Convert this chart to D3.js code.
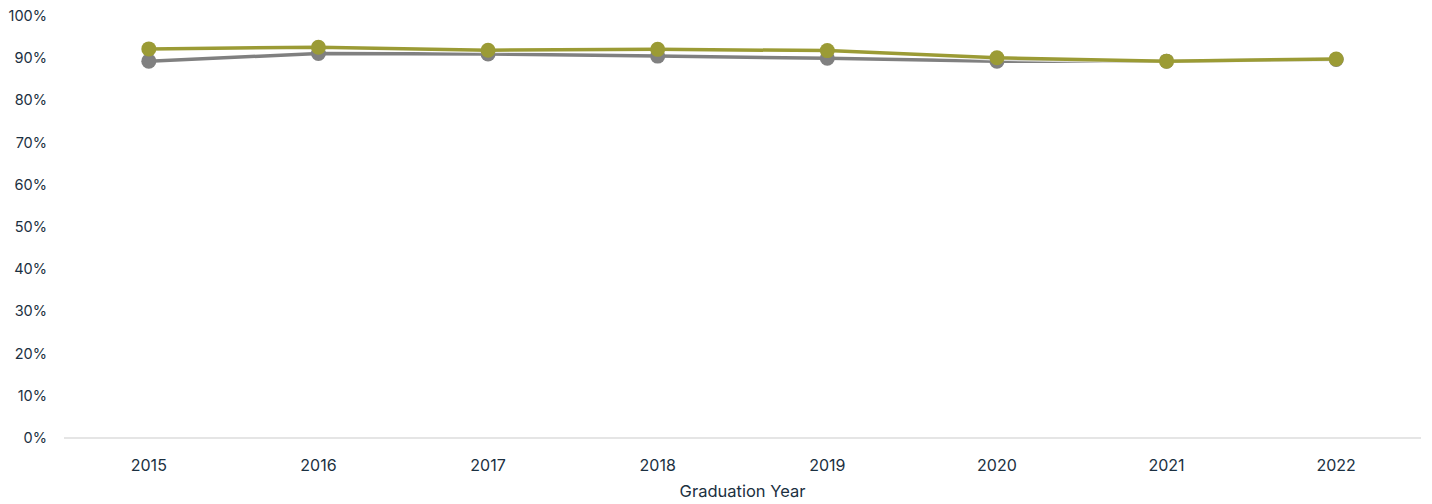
<!DOCTYPE html>
<html>
<head>
<meta charset="utf-8">
<script src="https://cdn.jsdelivr.net/npm/d3@7"></script>
<style>
  body { margin: 0; background: #fff; }
  text { font-family: Inter, "Open Sans", sans-serif; fill: #1b3041; }
</style>
</head>
<body>
<div id="vis"></div>
<script>
var years = ["2015", "2016", "2017", "2018", "2019", "2020", "2021", "2022"];
var grayValues = [89.3, 91.1, 91.0, 90.5, 90.0, 89.3, 89.3, 89.7];
var oliveValues = [92.2, 92.6, 91.9, 92.1, 91.8, 90.1, 89.3, 89.8];
var yTicks = [0, 10, 20, 30, 40, 50, 60, 70, 80, 90, 100];

var width = 1432, height = 504;
var margin = {top: 16, right: 11, bottom: 66, left: 64};

var svg = d3.select("#vis")
    .append("svg")
    .attr("width", width)
    .attr("height", height);

var x = d3.scaleBand()
    .domain(years)
    .range([margin.left, width - margin.right]);

var y = d3.scaleLinear()
    .domain([0, 100])
    .range([height - margin.bottom, margin.top]);

// y labels
svg.append("g")
  .selectAll("text")
    .data(yTicks)
    .enter()
    .append("text")
    .attr("x", 47)
    .attr("y", function(d) { return y(d); })
    .attr("dy", "0.35em")
    .attr("text-anchor", "end")
    .style("font-size", "14.5px")
    .text(function(d) { return d + "%"; });

// baseline
svg.append("line")
    .attr("x1", margin.left)
    .attr("x2", width - margin.right)
    .attr("y1", y(0))
    .attr("y2", y(0))
    .style("stroke", "#dcdcdc")
    .style("stroke-width", 1.5);

// x labels
svg.append("g")
  .selectAll("text")
    .data(years)
    .enter()
    .append("text")
    .attr("x", function(d) { return x(d) + x.bandwidth() / 2; })
    .attr("y", 465)
    .attr("dy", "0.35em")
    .attr("text-anchor", "middle")
    .style("font-size", "16px")
    .text(function(d) { return d; });

svg.append("text")
    .attr("x", x.range()[0] + (x.range()[1] - x.range()[0]) / 2)
    .attr("y", 491)
    .attr("dy", "0.35em")
    .attr("text-anchor", "middle")
    .style("font-size", "16.5px")
    .text("Graduation Year");

var line = d3.line()
    .x(function(d, i) { return x(years[i]) + x.bandwidth() / 2; })
    .y(function(d) { return y(d); });

function drawSeries(values, color) {
  svg.append("path")
      .datum(values)
      .attr("d", line)
      .style("fill", "none")
      .style("stroke", "#fff")
      .style("stroke-opacity", 0.7)
      .style("stroke-width", 6);
  svg.append("path")
      .datum(values)
      .attr("d", line)
      .style("fill", "none")
      .style("stroke", color)
      .style("stroke-width", 3.5);
  svg.append("g")
    .selectAll("circle")
      .data(values)
      .enter()
      .append("circle")
      .attr("cx", function(d, i) { return x(years[i]) + x.bandwidth() / 2; })
      .attr("cy", function(d) { return y(d); })
      .attr("r", 7.5)
      .style("fill", color);
}

drawSeries(grayValues, "#808080");
drawSeries(oliveValues, "#9b9b35");
</script>
</body>
</html>
